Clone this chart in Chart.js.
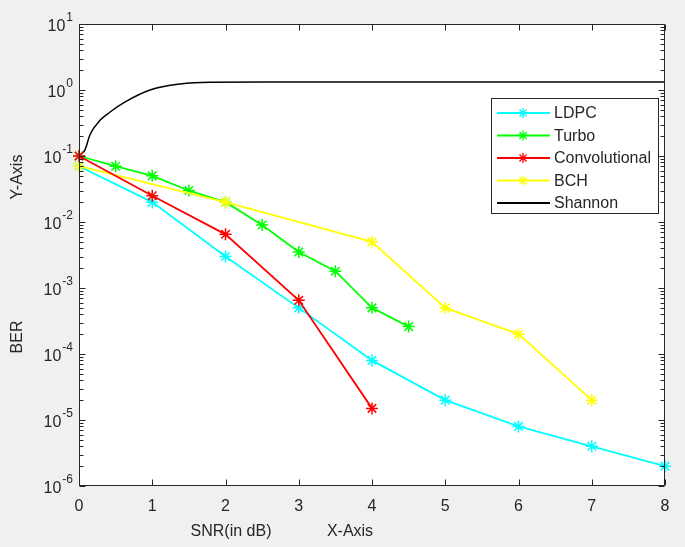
<!DOCTYPE html>
<html>
<head>
<meta charset="utf-8">
<script src="https://cdn.jsdelivr.net/npm/chart.js@4/dist/chart.umd.min.js"></script>
<style>
  body { margin: 0; background: #f0f0f0; }
  #wrap { width: 685px; height: 547px; }
</style>
</head>
<body>
<div id="wrap"><canvas id="berChart"></canvas></div>
<script>
const snrLdpc = [0, 1, 2, 3, 4, 5, 6, 7, 8];
const berLdpc = [0.07, 0.02, 0.003, 0.0005, 8e-5, 2e-5, 8e-6, 4e-6, 2e-6];

const snrTurbo = [0, 0.5, 1, 1.5, 2, 2.5, 3, 3.5, 4, 4.5];
const berTurbo = [0.1, 0.07, 0.05, 0.03, 0.02, 0.009, 0.0035, 0.0018, 0.0005, 0.00026];

const snrConv = [0, 1, 2, 3, 4];
const berConv = [0.1, 0.025, 0.0065, 0.00065, 1.5e-5];

const snrBch = [0, 2, 4, 5, 6, 7];
const berBch = [0.07, 0.02, 0.005, 0.0005, 0.0002, 2e-5];

const snrShannon = [0, 0.08, 0.15, 0.29, 0.42, 0.63, 0.97, 1.38, 1.79, 2.5, 3, 4, 5, 6, 7, 8];
const capShannon = [0.1, 0.123, 0.21, 0.35, 0.46, 0.66, 1.0, 1.23, 1.31, 1.32, 1.32, 1.32, 1.32, 1.32, 1.32, 1.32];

const xTicks = [0, 1, 2, 3, 4, 5, 6, 7, 8];
const yExponents = [1, 0, -1, -2, -3, -4, -5, -6];

const FONT = '"Liberation Sans", Arial, sans-serif';
const AXIS_COLOR = '#262626';

const pts = (xs, ys) => xs.map((x, i) => ({ x: x, y: ys[i] }));

function series(label, xs, ys, color, order) {
    return {
        label: label,
        data: pts(xs, ys),
        borderColor: color,
        backgroundColor: color,
        borderWidth: 1.8,
        pointStyle: 'star',
        pointRadius: 6,
        pointBorderWidth: 1.5,
        pointBorderColor: color,
        tension: 0,
        clip: false,
        order: order
    };
}

// MATLAB-like axes: white box, inside ticks, 10^n labels, axis texts, legend
const matlabAxes = {
    id: 'matlabAxes',
    beforeDatasetsDraw(chart) {
        const { ctx, chartArea: a } = chart;
        ctx.save();
        ctx.fillStyle = '#fff';
        ctx.fillRect(a.left, a.top, a.right - a.left, a.bottom - a.top);
        ctx.restore();
    },
    afterDatasetsDraw(chart) {
        const { ctx, chartArea: a } = chart;
        const xs = chart.scales.x, ys = chart.scales.y;
        const L = Math.round(a.left) + 0.5, R = Math.round(a.right) - 0.5;
        const T = Math.round(a.top) + 0.5, B = Math.round(a.bottom) - 0.5;
        ctx.save();
        ctx.strokeStyle = AXIS_COLOR;
        ctx.lineWidth = 1;
        ctx.beginPath();
        ctx.rect(L, T, R - L, B - T);
        // x ticks, bottom and top
        xTicks.forEach(v => {
            const px = Math.round(xs.getPixelForValue(v)) + 0.5;
            ctx.moveTo(px, B); ctx.lineTo(px, B - 6);
            ctx.moveTo(px, T); ctx.lineTo(px, T + 6);
        });
        // y major + minor ticks, left and right
        yExponents.forEach(e => {
            for (let m = 1; m <= 9; m++) {
                const v = m * Math.pow(10, e);
                if (e === 1 && m > 1) continue;
                const py = Math.round(ys.getPixelForValue(v)) + 0.5;
                const len = m === 1 ? 6 : 4;
                ctx.moveTo(L, py); ctx.lineTo(L + len, py);
                ctx.moveTo(R, py); ctx.lineTo(R - len, py);
            }
        });
        ctx.stroke();

        ctx.fillStyle = AXIS_COLOR;
        // x tick labels
        ctx.font = '16px ' + FONT;
        ctx.textAlign = 'center';
        ctx.textBaseline = 'middle';
        xTicks.forEach(v => {
            ctx.fillText(String(v), xs.getPixelForValue(v), a.bottom + 21);
        });
        // y tick labels 10^e
        yExponents.forEach(e => {
            const py = ys.getPixelForValue(Math.pow(10, e));
            const exp = String(e);
            ctx.font = '12px ' + FONT;
            const ew = ctx.measureText(exp).width;
            const right = a.left - 6;
            ctx.textAlign = 'left';
            ctx.fillText(exp, right - ew, py - 6);
            ctx.font = '16px ' + FONT;
            ctx.textAlign = 'right';
            ctx.fillText('10', right - ew - 1, py + 3);
        });
        // axis titles
        ctx.font = '16px ' + FONT;
        ctx.textAlign = 'center';
        ctx.fillText('SNR(in dB)', 231, a.bottom + 46);
        ctx.fillText('X-Axis', 350, a.bottom + 46);
        ctx.save();
        ctx.translate(18, 0);
        ctx.rotate(-Math.PI / 2);
        ctx.fillText('Y-Axis', -177, 0);
        ctx.fillText('BER', -337, 0);
        ctx.restore();

        // legend
        const bx = 491.5, by = 98.5, bw = 167, bh = 115;
        ctx.fillStyle = '#fff';
        ctx.fillRect(bx, by, bw, bh);
        ctx.strokeStyle = AXIS_COLOR;
        ctx.strokeRect(bx, by, bw, bh);
        ctx.font = '16px ' + FONT;
        ctx.textAlign = 'left';
        chart.data.datasets.forEach((ds, i) => {
            const ry = 113 + i * 22.5;
            ctx.strokeStyle = ds.borderColor;
            ctx.lineWidth = 1.8;
            ctx.beginPath();
            ctx.moveTo(497, ry); ctx.lineTo(550, ry);
            ctx.stroke();
            if (ds.pointRadius > 0) {
                ctx.lineWidth = 1.3;
                ctx.fillStyle = ds.borderColor;
                Chart.helpers.drawPoint(ctx, { pointStyle: 'star', radius: 5, borderWidth: 1.3, rotation: 0 }, 523, ry);
            }
            ctx.fillStyle = AXIS_COLOR;
            ctx.fillText(ds.label, 554, ry + 1);
        });
        ctx.restore();
    }
};

const data = {
    datasets: [
        series('LDPC', snrLdpc, berLdpc, '#00ffff', 5),
        series('Turbo', snrTurbo, berTurbo, '#00ff00', 4),
        series('Convolutional', snrConv, berConv, '#ff0000', 2),
        series('BCH', snrBch, berBch, '#ffff00', 3),
        {
            label: 'Shannon',
            data: pts(snrShannon, capShannon),
            borderColor: '#000000',
            backgroundColor: '#000000',
            borderWidth: 1.5,
            pointRadius: 0,
            cubicInterpolationMode: 'monotone',
            clip: false,
            order: 6
        }
    ]
};

const config = {
    type: 'line',
    data: data,
    options: {
        responsive: true,
        maintainAspectRatio: false,
        devicePixelRatio: 1,
        animation: false,
        layout: {
            padding: { left: 79, right: 20, top: 24, bottom: 61 }
        },
        scales: {
            x: { type: 'linear', min: 0, max: 8, display: false },
            y: { type: 'logarithmic', min: 1e-6, max: 10, display: false }
        },
        plugins: {
            legend: { display: false },
            tooltip: { enabled: false }
        }
    },
    plugins: [matlabAxes]
};

const berChart = new Chart(document.getElementById('berChart'), config);
</script>
</body>
</html>
